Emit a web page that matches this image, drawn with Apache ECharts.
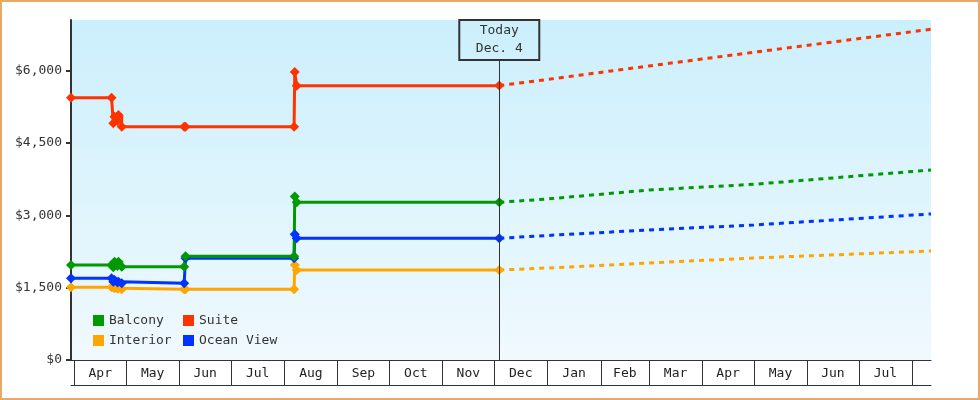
<!DOCTYPE html>
<html>
<head>
<meta charset="utf-8">
<script src="https://cdn.jsdelivr.net/npm/echarts@6/dist/echarts.min.js"></script>
<style>
  html, body { margin: 0; padding: 0; background: #fff; }
  #chart { width: 980px; height: 400px; }
</style>
</head>
<body>
<div id="chart"></div>
<script>
// ---------- data ----------
const axisStart = '2013-03-30';
const axisEnd = '2014-08-12';
const monthStarts = ['2013-04-01','2013-05-01','2013-06-01','2013-07-01','2013-08-01','2013-09-01','2013-10-01','2013-11-01','2013-12-01','2014-01-01','2014-02-01','2014-03-01','2014-04-01','2014-05-01','2014-06-01','2014-07-01','2014-08-01'];
const monthLabels = ['Apr','May','Jun','Jul','Aug','Sep','Oct','Nov','Dec','Jan','Feb','Mar','Apr','May','Jun','Jul'];
const yTicks = [0, 1500, 3000, 4500, 6000];
const yMax = 7050;

const obsDates = ['2013-03-30 00:00','2013-04-22 14:00','2013-04-23 14:00','2013-04-24 07:00','2013-04-25 22:00','2013-04-26 14:00','2013-04-28 12:00','2013-06-03 19:00','2013-06-04 14:00','2013-08-06 17:00','2013-08-07 02:00','2013-08-08 05:00','2013-12-04 00:00'];
const suite     = [5440, 5440, 4909, 5046, 4957, 5081, 4838, 4838, 4838, 4838, 5973, 5689, 5690];
const balcony   = [1970, 1970, 1922, 2039, 1950, 2039, 1935, 1935, 2150, 2150, 3388, 3270, 3270];
const oceanView = [1694, 1694, 1624, 1660, 1610, 1624, 1590, 1590, 2110, 2110, 2607, 2524, 2524];
const interior  = [1508, 1508, 1508, 1487, 1480, 1487, 1466, 1466, 1466, 1466, 1970, 1866, 1866];

const fcDates = ['2013-12-04','2014-01-01','2014-03-01','2014-05-01','2014-08-12'];
const suiteFc     = [5690, 5817, 6097, 6381, 6858];
const balconyFc   = [3270, 3339, 3525, 3643, 3940];
const oceanViewFc = [2524, 2582, 2696, 2800, 3028];
const interiorFc  = [1866, 1908, 2012, 2115, 2260];

const todayDate = '2013-12-04';
const todayText = 'Today\nDec. 4';
const todayLabelTop = 6220;

// ---------- helpers ----------
function ts(s) {
  const parts = s.split(' ');
  const [Y, M, D] = parts[0].split('-').map(Number);
  const [h, m] = (parts[1] || '00:00').split(':').map(Number);
  return new Date(Y, M - 1, D, h, m).getTime();
}
function pairs(dates, vals) { return dates.map((d, i) => [ts(d), vals[i]]); }
const labelMids = monthStarts.slice(0, -1).map((s, i) => (ts(s) + ts(monthStarts[i + 1])) / 2);
function monthLabelFor(v) {
  let best = 0, bd = Infinity;
  labelMids.forEach((m, i) => { const d = Math.abs(m - v); if (d < bd) { bd = d; best = i; } });
  return monthLabels[best];
}

const MONO = '"DejaVu Sans Mono", "Liberation Mono", monospace';
const colors = { 'Balcony': '#009900', 'Suite': '#ff3300', 'Interior': '#ffa500', 'Ocean View': '#0033ff' };

function solid(name, vals) {
  return {
    name, type: 'line', step: 'end', data: pairs(obsDates, vals),
    symbol: 'diamond', symbolSize: 10, showSymbol: true,
    lineStyle: { width: 3, color: colors[name] }, itemStyle: { color: colors[name] },
    emphasis: { disabled: true }, z: 3
  };
}
function dashed(name, vals) {
  return {
    name, type: 'line', data: pairs(fcDates, vals), symbol: 'none', showSymbol: false,
    lineStyle: { width: 3, type: [5, 5], color: colors[name] }, itemStyle: { color: colors[name] },
    emphasis: { disabled: true }, z: 3
  };
}

const chart = echarts.init(document.getElementById('chart'), null, { renderer: 'canvas' });
const legendText = { fontFamily: MONO, fontSize: 13, color: '#333' };
chart.setOption({
  animation: false,
  graphic: [{
    type: 'rect', shape: { x: 1, y: 1, width: 978, height: 398 },
    style: { fill: 'none', stroke: '#e8a866', lineWidth: 2 }, silent: true, z: 100
  }],
  grid: {
    left: 71, right: 49, top: 20, bottom: 40, show: true, borderWidth: 0,
    backgroundColor: new echarts.graphic.LinearGradient(0, 0, 0, 1, [
      { offset: 0, color: '#cbeffc' }, { offset: 1, color: '#f0f9fe' }
    ])
  },
  legend: [
    { data: ['Balcony', 'Interior'], orient: 'vertical', left: 93, top: 314, itemGap: 7, padding: 0,
      icon: 'rect', itemWidth: 11, itemHeight: 11, textStyle: legendText },
    { data: ['Suite', 'Ocean View'], orient: 'vertical', left: 183, top: 314, itemGap: 7, padding: 0,
      icon: 'rect', itemWidth: 11, itemHeight: 11, textStyle: legendText }
  ],
  xAxis: [{
    type: 'value', min: ts(axisStart), max: ts(axisEnd), position: 'bottom', scale: true,
    axisLine: { show: true, onZero: false, lineStyle: { color: '#333', width: 1 } },
    axisTick: { show: true, customValues: monthStarts.map(ts), length: 25, inside: false,
                lineStyle: { color: '#333', width: 1 } },
    axisLabel: { customValues: labelMids, formatter: (v) => monthLabelFor(v), margin: 7,
                 fontFamily: MONO, fontSize: 13, color: '#222', hideOverlap: false },
    splitLine: { show: false }
  }, {
    type: 'value', min: ts(axisStart), max: ts(axisEnd), position: 'bottom', offset: 25, scale: true,
    axisLine: { show: true, onZero: false, lineStyle: { color: '#333', width: 1 } },
    axisTick: { show: false }, axisLabel: { show: false }, splitLine: { show: false }
  }],
  yAxis: {
    type: 'value', min: 0, max: yMax, interval: 1500,
    axisLine: { show: true, lineStyle: { color: '#333', width: 2 } },
    axisTick: { show: true, customValues: yTicks, length: 5, lineStyle: { color: '#333', width: 2 } },
    axisLabel: { customValues: yTicks, formatter: (v) => '$' + v.toLocaleString('en-US'), margin: 9,
                 fontFamily: MONO, fontSize: 13, color: '#333' },
    splitLine: { show: false }
  },
  series: [
    {
      name: 'today', type: 'line', data: [], z: 1, silent: true,
      markLine: {
        silent: true, symbol: ['none', 'none'], animation: false,
        lineStyle: { color: '#333', width: 1, type: 'solid' },
        label: {
          show: true, position: 'end', distance: 0, formatter: todayText,
          fontFamily: MONO, fontSize: 13, color: '#333', lineHeight: 18,
          width: 80, align: 'center', verticalAlign: 'bottom',
          borderColor: '#333', borderWidth: 1, backgroundColor: 'transparent', padding: [2, 0, 2, 0]
        },
        emphasis: { disabled: true },
        data: [[{ coord: [ts(todayDate), 0] }, { coord: [ts(todayDate), todayLabelTop] }]]
      }
    },
    solid('Interior', interior),
    solid('Ocean View', oceanView),
    solid('Balcony', balcony),
    solid('Suite', suite),
    dashed('Interior', interiorFc),
    dashed('Ocean View', oceanViewFc),
    dashed('Balcony', balconyFc),
    dashed('Suite', suiteFc)
  ]
});
</script>
</body>
</html>
